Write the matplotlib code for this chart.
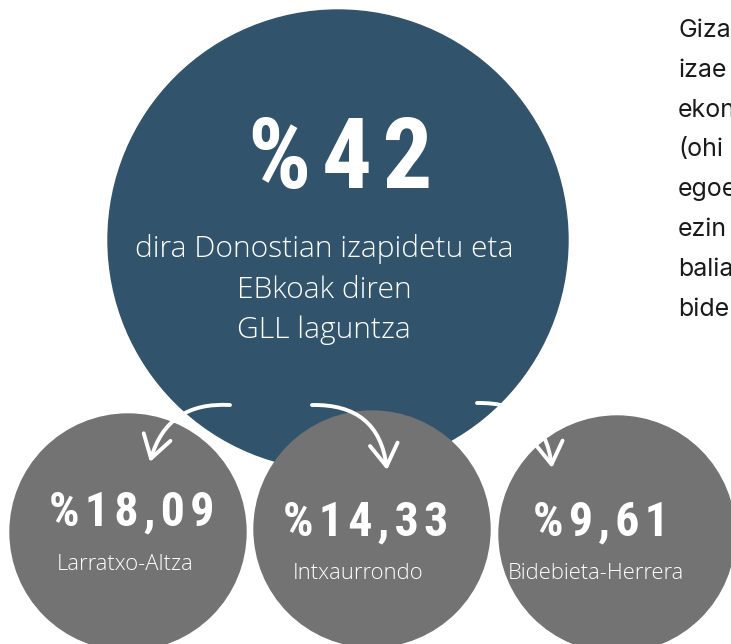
import matplotlib
matplotlib.use('Agg')
import matplotlib.pyplot as plt
from matplotlib import font_manager
from matplotlib.patches import Circle, FancyArrowPatch, ArrowStyle

# values shown in the graphic
main_value = 42
main_lines = ['dira Donostian izapidetu eta', 'EBkoak diren', 'GLL laguntza']
districts = ['Larratxo-Altza', 'Intxaurrondo', 'Bidebieta-Herrera']
district_values = [18.09, 14.33, 9.61]
# the side paragraph is cut by the right edge of the image
side_lines = ['Giza', 'izae', 'ekon', '(ohi', 'egoe', 'ezin', 'balia', 'bide']

BLUE = '#31536b'
GREY = '#737373'
LIGHT_FONT = ['Open Sans', 'DejaVu Sans']

# pick a narrow bold face for the big numbers if one is around
installed = {f.name for f in font_manager.fontManager.ttflist}
NUM_FONT = [n for n in ['Roboto Condensed', 'Liberation Sans Narrow', 'Roboto']
            if n in installed] + ['DejaVu Sans']

W, H = 731, 644
fig = plt.figure(figsize=(W / 100, H / 100), dpi=100)
ax = fig.add_axes([0, 0, 1, 1])
ax.set_xlim(0, W)
ax.set_ylim(H, 0)
ax.axis('off')


def pct(v):
    # basque style: percent sign in front, decimal comma, loose tracking
    s = f'%{v:.2f}'.replace('.', ',') if v % 1 else f'%{v:.0f}'
    return '\u200a'.join(s)


def px(n):
    return n * 0.72


# big circle
ax.add_patch(Circle((338, 240), 230, color=BLUE, zorder=1))
ax.text(340, 188, pct(main_value), ha='center', va='baseline', color='white',
        fontsize=px(99), fontweight='bold', family=NUM_FONT, zorder=5)
for i, line in enumerate(main_lines):
    ax.text(324, 257 + 40.5 * i, line, ha='center', va='baseline', color='white',
            fontsize=px(30), fontweight='light', family=LIGHT_FONT, zorder=5)

# district circles
centres = [(128, 532), (372, 529), (617, 534)]
num_pos = [(132, 525), (366, 535), (601, 535)]
lab_pos = [(125, 570), (358, 579), (596, 579)]
for c, npos, lpos, name, v in zip(centres, num_pos, lab_pos, districts, district_values):
    ax.add_patch(Circle(c, 118, color=GREY, zorder=2))
    ax.text(*npos, pct(v), ha='center', va='baseline', color='white',
            fontsize=px(48), fontweight='bold', family=NUM_FONT, zorder=5)
    ax.text(*lpos, name, ha='center', va='baseline', color='white',
            fontsize=px(22), fontweight='light', family=LIGHT_FONT, zorder=5)

# curved arrows
arrows = [((230, 405), (150, 462), 0.4),
          ((312, 405), (387, 470), -0.45),
          ((477, 403), (552, 468), -0.45)]
for a, b, rad in arrows:
    ax.add_patch(FancyArrowPatch(
        a, b, connectionstyle=f'arc3,rad={rad}',
        arrowstyle=ArrowStyle('->', head_length=0.8, head_width=0.5),
        mutation_scale=20, shrinkA=0, shrinkB=0, color='white',
        linewidth=2.8, capstyle='round', joinstyle='round', zorder=4))

# side text
for i, line in enumerate(side_lines):
    ax.text(678, 37 + 39.8 * i, line, ha='left', va='baseline', color='#1a1a1a',
            fontsize=px(25), family=['Inter', 'DejaVu Sans'], zorder=5)

fig.savefig('out.png', dpi=100)
